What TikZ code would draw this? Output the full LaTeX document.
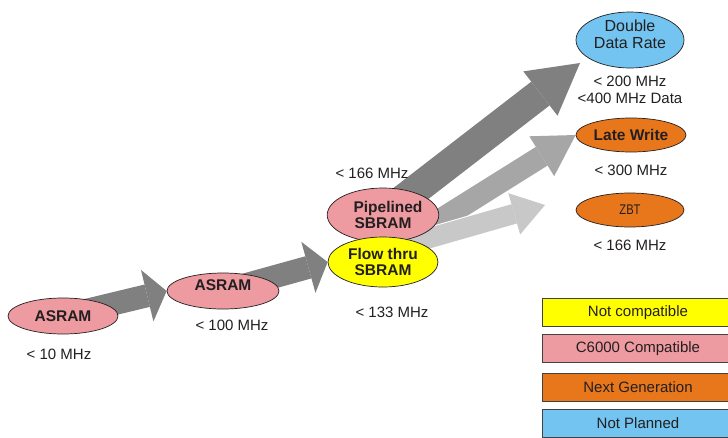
\documentclass[tikz,border=0pt]{standalone}
\usepackage{fontspec}
\setmainfont{Liberation Sans}
\usepackage{tikz}
\usetikzlibrary{arrows.meta, positioning, shapes.geometric, backgrounds}
\definecolor{rampink}{RGB}{237, 154, 160}
\definecolor{ramyellow}{RGB}{255, 255, 0}
\definecolor{ramorange}{RGB}{232, 119, 28}
\definecolor{ramblue}{RGB}{115, 196, 240}
\definecolor{ramdark}{RGB}{35, 31, 32}
\definecolor{arrowdark}{RGB}{128, 128, 128}
\definecolor{arrowmid}{RGB}{166, 166, 166}
\definecolor{arrowlight}{RGB}{200, 200, 200}

\begin{document}
\begin{tikzpicture}[x=1pt, y=-1pt,
    chip/.style={ellipse, draw=ramdark, line width=0.7pt, inner sep=0pt, align=center, text=ramdark, font=\fontsize{15.5}{16}\selectfont\bfseries},
    speed/.style={align=center, text=ramdark, font=\fontsize{15}{17}\selectfont},
    legend/.style={rectangle, draw=ramdark!85, line width=1pt, anchor=north west, minimum width=191pt, minimum height=28pt, inner sep=0pt, text=ramdark, font=\fontsize{15}{16}\selectfont},
    fat/.style n args={4}{draw=#1, line width=#2, -{Triangle[width=#3, length=#4, line width=0pt]}},
    halo/.style n args={3}{preaction={draw=white, line width=#1, -{Triangle[width=#2, length=#3, line width=0pt]}}}
]
\useasboundingbox (0,0) rectangle (728,437);

% Memory generations
\node[chip, fill=rampink, minimum width=110pt, minimum height=36pt] (asram1) at (63,316) {ASRAM};
\node[chip, fill=rampink, minimum width=112pt, minimum height=36pt] (asram2) at (223,291) {ASRAM\\[-5pt]};
\node[chip, fill=rampink, minimum width=110pt, minimum height=54pt] (pipe) at (383,215) {\hspace*{10pt}Pipelined\\SBRAM};
\node[chip, fill=ramyellow, minimum width=110pt, minimum height=50pt] (flow) at (383,262) {Flow thru\\SBRAM};

% Next generation parts
\node[chip, fill=ramblue, minimum width=108pt, minimum height=50pt, font=\fontsize{16}{17}\selectfont] (ddr) at (630,40) {Double\\Data Rate\\[-6pt]};
\node[chip, fill=ramorange, minimum width=110pt, minimum height=34pt] (late) at (631,135) {Late Write};
\node[chip, fill=ramorange, minimum width=108pt, minimum height=34pt, font=\fontsize{14}{15}\selectfont] (zbt) at (630,210) {\scalebox{0.8}[1]{ZBT}};

% Speeds
\node[speed] (s1) at (59,354) {< 10 MHz};
\node[speed] (s2) at (232,325) {< 100 MHz};
\node[speed] (s3) at (372,173) {< 166 MHz};
\node[speed] (s4) at (392,312) {< 133 MHz};
\node[speed] (s5) at (630,90) {< 200 MHz\\<400 MHz Data};
\node[speed] (s6) at (631,170) {< 300 MHz};
\node[speed] (s7) at (630,245) {< 166 MHz};

% Free arrow ends
\coordinate (fork) at (395,248);
\coordinate (ddrtip) at (580,63);
\coordinate (zbttip) at (545,205);

% Block arrows, behind the parts
\begin{scope}[on background layer]
    \draw[fat={arrowdark}{23pt}{53pt}{20pt}] (asram1.center) -- (asram2.west);
    \draw[fat={arrowdark}{23pt}{53pt}{20pt}] (asram2.center) -- (flow.west);
    \draw[fat={arrowdark}{30pt}{56pt}{50pt}] (pipe.center) -- (ddrtip);
    \draw[halo={24pt}{51pt}{43pt}, fat={arrowmid}{22pt}{47pt}{40pt}] (fork) -- (late.west);
    \draw[halo={22pt}{47pt}{35pt}, fat={arrowlight}{20pt}{43pt}{32pt}] (fork) -- (zbttip);
\end{scope}

% Legend
\foreach \y/\c/\t [count=\i] in {298/ramyellow/Not compatible, 334/rampink/C6000 Compatible, 373/ramorange/Next Generation, 409/ramblue/Not Planned} {
    \node[legend, fill=\c] (key\i) at (542,\y) {\t};
}

\end{tikzpicture}
\end{document}
